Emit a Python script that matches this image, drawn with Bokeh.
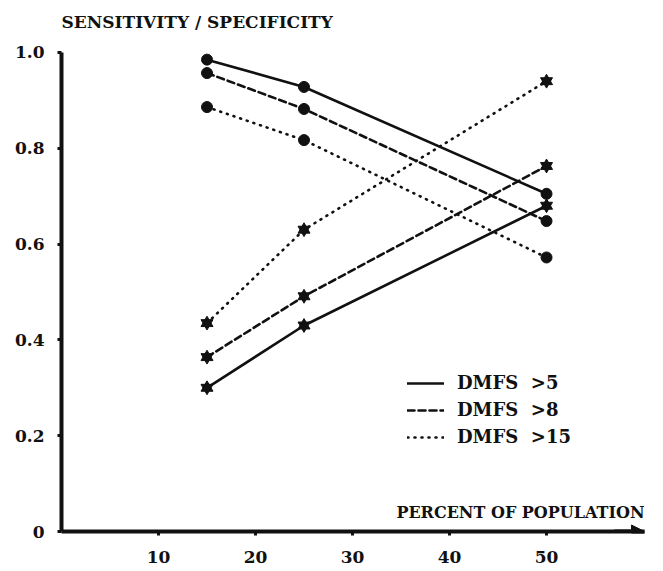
from bokeh.plotting import figure
from bokeh.models import (ColumnDataSource, FixedTicker, Label, Arrow, NormalHead,
                          Legend, LegendItem, Range1d)
from bokeh.embed import file_html
from bokeh.resources import INLINE

# ---- data ----
percent = [15, 25, 50]
spec_dmfs5 = [0.985, 0.928, 0.705]
spec_dmfs8 = [0.957, 0.882, 0.648]
spec_dmfs15 = [0.886, 0.817, 0.572]
sens_dmfs5 = [0.300, 0.430, 0.680]
sens_dmfs8 = [0.364, 0.491, 0.763]
sens_dmfs15 = [0.435, 0.630, 0.940]
series_labels = ["DMFS  >5", "DMFS  >8", "DMFS  >15"]
x_ticks = [10, 20, 30, 40, 50]
y_ticks = [0, 0.2, 0.4, 0.6, 0.8, 1.0]
y_tick_labels = ["0", "0.2", "0.4", "0.6", "0.8", "1.0"]
x_title = "PERCENT OF POPULATION"
y_title = "SENSITIVITY / SPECIFICITY"

FONT = "DejaVu Serif"
INK = "#111111"

p = figure(frame_width=583, frame_height=526, output_backend="svg",
           toolbar_location=None, x_range=Range1d(0, 60.1),
           y_range=Range1d(0, 1.098),
           min_border_left=61, min_border_top=5, min_border_right=6,
           min_border_bottom=34, background_fill_color="white",
           border_fill_color="white")
p.outline_line_color = None
p.grid.visible = False

# axes
p.xaxis.ticker = FixedTicker(ticks=x_ticks)
p.yaxis.ticker = FixedTicker(ticks=y_ticks)
p.yaxis.bounds = (0, 1.0)
p.yaxis.major_label_overrides = {t: l for t, l in zip(y_ticks, y_tick_labels)}
for ax in (p.xaxis, p.yaxis):
    ax.axis_line_width = 4
    ax.axis_line_color = INK
    ax.major_tick_line_width = 3
    ax.major_tick_line_color = INK
    ax.major_tick_in = 0
    ax.major_tick_out = 4
    ax.minor_tick_line_color = None
    ax.major_label_text_font = FONT
    ax.major_label_text_font_style = "bold"
    ax.major_label_text_font_size = "17px"
    ax.major_label_text_color = INK
p.xaxis.major_label_standoff = 15
p.yaxis.major_label_standoff = 13

# arrow head at the end of the x axis
p.add_layout(Arrow(end=NormalHead(size=13, fill_color=INK, line_color=INK),
                   x_start=57, y_start=0, x_end=60.1, y_end=0,
                   line_width=4, line_color=INK))

dashes = ["solid", "7 4", "1 6"]
specs = [spec_dmfs5, spec_dmfs8, spec_dmfs15]
senss = [sens_dmfs5, sens_dmfs8, sens_dmfs15]
items = []
for lab, sp, se, dash in zip(series_labels, specs, senss, dashes):
    src_sp = ColumnDataSource(dict(x=percent, y=sp))
    src_se = ColumnDataSource(dict(x=percent, y=se))
    kw = dict(line_color=INK, line_width=2.6, line_dash=dash, line_cap="round")
    r1 = p.line("x", "y", source=src_sp, **kw)
    p.line("x", "y", source=src_se, **kw)
    p.scatter("x", "y", source=src_sp, marker="circle", size=11,
              fill_color=INK, line_color=INK)
    p.scatter("x", "y", source=src_se, marker="triangle", size=12,
              fill_color=INK, line_color=INK)
    p.scatter("x", "y", source=src_se, marker="inverted_triangle", size=12,
              fill_color=INK, line_color=INK)
    items.append(LegendItem(label=lab, renderers=[r1]))

legend = Legend(items=items, location=(346, 84), glyph_width=37, glyph_height=20,
                label_height=20, spacing=6, padding=0, margin=0,
                label_standoff=13, border_line_color=None,
                background_fill_alpha=0, label_text_font=FONT,
                label_text_font_style="bold", label_text_font_size="18px",
                label_text_color=INK)
p.add_layout(legend)

# caption of the y axis, above the top of the axis
p.add_layout(Label(x=0, y=1.063, text=y_title, text_font=FONT,
                   text_font_style="bold", text_font_size="17px",
                   text_color=INK, text_align="left", text_baseline="alphabetic"))
p.add_layout(Label(x=60.1, y=0.04, text=x_title, text_font=FONT,
                   text_font_style="bold", text_font_size="16px",
                   text_color=INK, text_align="right", text_baseline="alphabetic"))

open("out.html", "w").write(file_html(p, INLINE))
